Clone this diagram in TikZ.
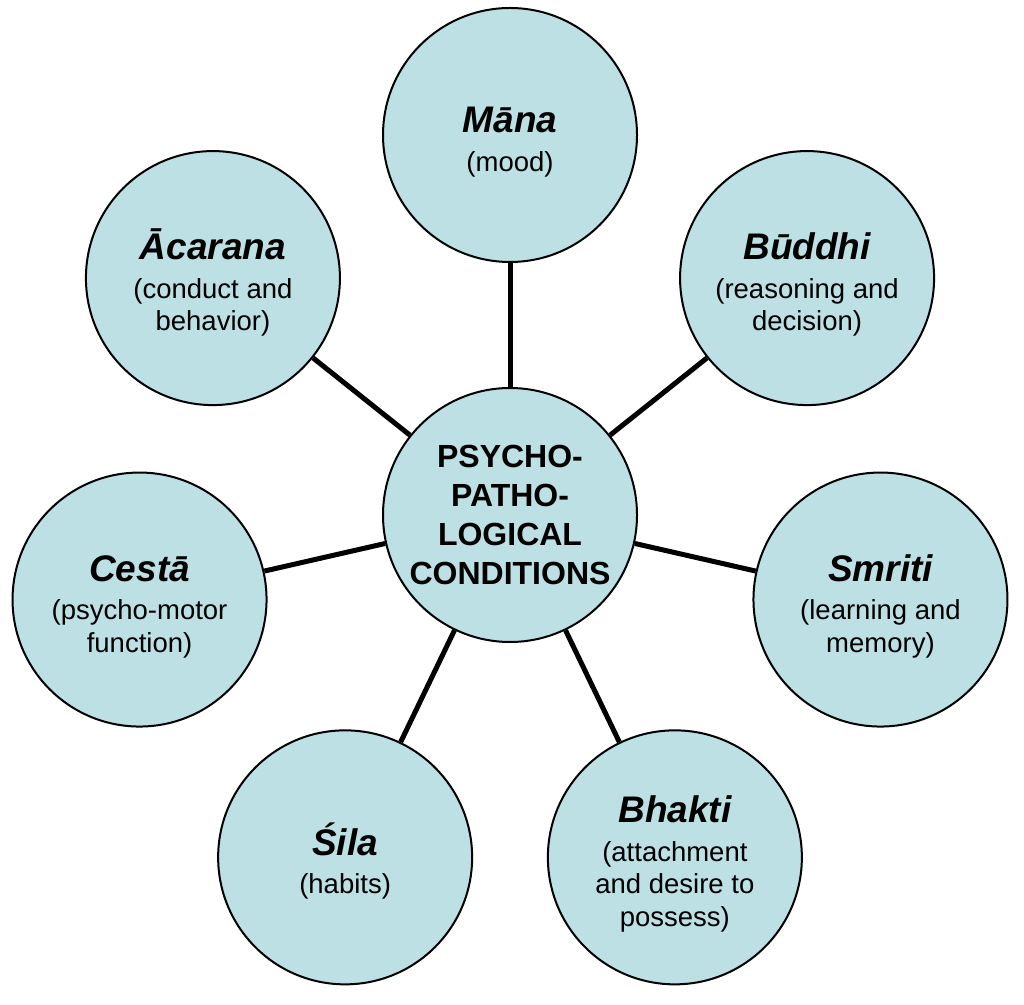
\documentclass[tikz,border=0pt]{standalone}
\usepackage{fontspec}
\setmainfont{Liberation Sans}
\usetikzlibrary{calc}
\definecolor{bubblefill}{RGB}{188,224,228}
\begin{document}
\begin{tikzpicture}[x=1pt,y=1pt,
  bubble/.style={circle,draw=black,line width=2pt,fill=bubblefill,minimum size=254pt,inner sep=0pt,
    align=center,font={\fontsize{27.5}{32.5}\selectfont}},
  hub/.style={bubble,font={\fontsize{32}{39}\selectfont\bfseries}},
  link/.style={line width=5pt,draw=black}]
\useasboundingbox (0,0) rectangle (1024,1004);
\newcommand{\ttl}[1]{{\fontsize{37}{40}\selectfont\bfseries\itshape\rule{0pt}{40pt}#1}}
\coordinate (o) at (510,489);
\node[hub] (c) at (o) {PSYCHO-\\PATHO-\\LOGICAL\\CONDITIONS};
\node[bubble] (mana) at ($(o)+(90:380)$) {\ttl{Māna}\\[6pt](mood)};
\node[bubble] (buddhi) at ($(o)+(38.571:380)$) {\ttl{Būddhi}\\[6pt](reasoning and\\decision)};
\node[bubble] (smriti) at ($(o)+(-12.857:380)$) {\ttl{Smriti}\\[6pt](learning and\\memory)};
\node[bubble] (bhakti) at ($(o)+(-64.286:380)$) {\ttl{Bhakti}\\[6pt](attachment\\and desire to\\possess)};
\node[bubble] (sila) at ($(o)+(-115.714:380)$) {\ttl{Śila}\\[6pt](habits)};
\node[bubble] (cesta) at ($(o)+(-167.143:380)$) {\ttl{Cestā}\\[6pt](psycho-motor\\function)};
\node[bubble] (acarana) at ($(o)+(141.429:380)$) {\ttl{Ācarana}\\[6pt](conduct and\\behavior)};
\foreach \n in {mana,buddhi,smriti,bhakti,sila,cesta,acarana}
  \draw[link] (c) -- (\n);
\end{tikzpicture}
\end{document}
